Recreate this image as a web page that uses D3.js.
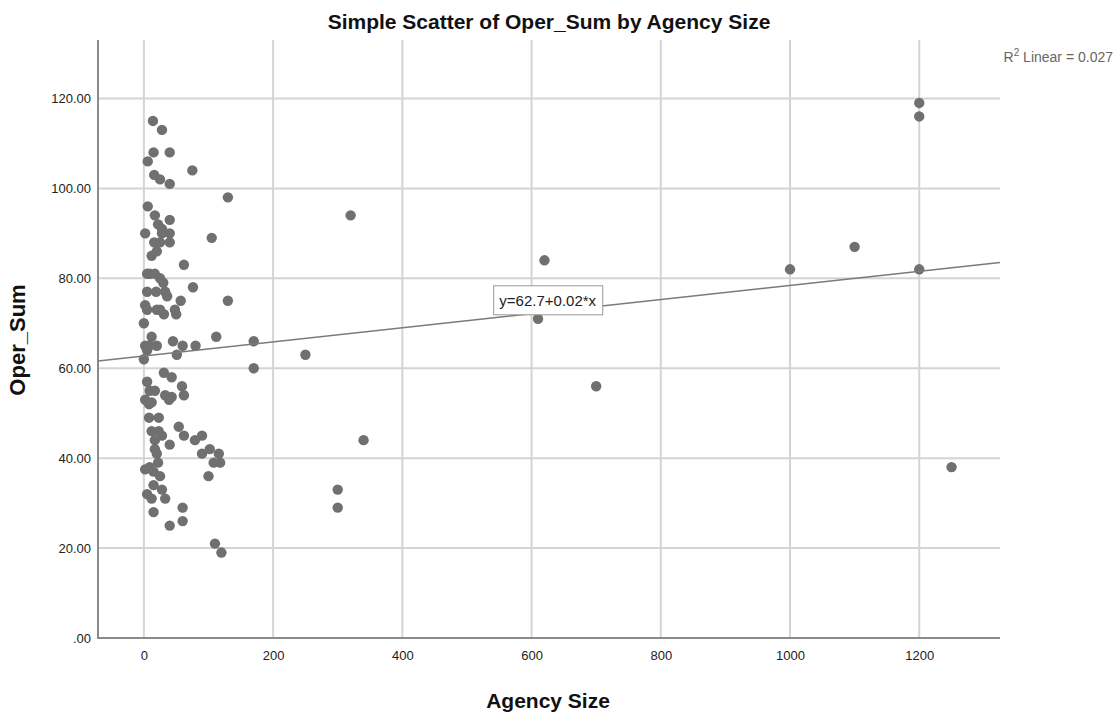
<!DOCTYPE html>
<meta charset="utf-8">
<head>
  <title>Simple Scatter of Oper_Sum by Agency Size</title>
  <script src="https://d3js.org/d3.v7.min.js"></script>
  <style>
    body { margin: 0; background: #fff; }
    text { font-family: "Liberation Sans", Arial, sans-serif; }
  </style>
</head>
<body>
<svg id="chart" width="1118" height="713"></svg>

<script>
// Agency size and Oper_Sum
var agencySize = [
  1200, 1200, 1000, 1100, 1200, 1250, 620, 610, 700, 320, 250, 300, 300, 340,
  170, 170, 130, 130, 105, 112, 75, 76, 80, 62,
  14, 28, 15, 40, 6, 16, 25, 40, 6, 17, 40, 22, 28, 2, 40, 28, 16, 25, 40, 12, 20,
  5, 9, 17, 25, 30, 5, 19, 33, 36, 57, 2, 5, 20, 25, 31, 48, 50, 0, 12,
  2, 8, 20, 45, 60, 5, 51, 0, 31, 43, 5, 59, 62, 9, 17, 33, 43, 2,
  8, 12, 39, 8, 23, 54, 62, 12, 23, 17, 28, 40, 79, 90, 90, 102, 116, 118, 108,
  17, 20, 22, 2, 9, 15, 25, 100, 15, 28, 5, 12, 33, 15, 60, 60, 40, 110, 120
]
var operSum = [
  119, 116, 82, 87, 82, 38, 84, 71, 56, 94, 63, 33, 29, 44,
  66, 60, 98, 75, 89, 67, 104, 78, 65, 83,
  115, 113, 108, 108, 106, 103, 102, 101, 96, 94, 93, 92, 91, 90, 90, 90, 88, 88, 88, 85, 86,
  81, 81, 81, 80, 79, 77, 77, 77, 76, 75, 74, 73, 73, 73, 72, 73, 72, 70, 67,
  65, 65, 65, 66, 65, 64, 63, 62, 59, 58, 57, 56, 54, 55, 55, 54, 53.6, 53,
  52, 52.4, 53, 49, 49, 47, 45, 46, 46, 44, 45, 43, 44, 45, 41, 42, 41, 39, 39,
  42, 41, 39, 37.5, 38, 37, 36, 36, 34, 33, 32, 31, 31, 28, 29, 26, 25, 21, 19
]
var xTicks = [0, 200, 400, 600, 800, 1000, 1200]
var yTicks = [0, 20, 40, 60, 80, 100, 120]
var fitIntercept = 62.7
var fitSlope = 0.0157
var fitLabel = "y=62.7+0.02*x"
var r2Label = "Linear = 0.027"

var svg = d3.select("#chart")
var plotLeft = 98, plotRight = 1000, plotTop = 40, plotBottom = 638

var x = d3.scaleLinear().domain([-71, 1325]).range([plotLeft, plotRight])
var y = d3.scaleLinear().domain([0, 133]).range([plotBottom, plotTop])

// grid
var grid = svg.append("g").attr("name", "grid")
grid.selectAll(".hgrid").data(yTicks.filter(d => d > 0)).enter().append("line")
  .attr("x1", plotLeft).attr("x2", plotRight)
  .attr("y1", d => y(d)).attr("y2", d => y(d))
  .attr("stroke", "#d4d4d4").attr("stroke-width", 2)
grid.selectAll(".vgrid").data(xTicks).enter().append("line")
  .attr("x1", d => x(d)).attr("x2", d => x(d))
  .attr("y1", plotTop).attr("y2", plotBottom)
  .attr("stroke", "#d4d4d4").attr("stroke-width", 2)

// axes
svg.append("g")
  .attr("transform", "translate(0," + plotBottom + ")")
  .call(d3.axisBottom(x).tickValues(xTicks).tickSize(0).tickPadding(13).tickFormat(d3.format("d")))
svg.append("g")
  .attr("transform", "translate(" + plotLeft + ",0)")
  .call(d3.axisLeft(y).tickValues(yTicks).tickSize(0).tickPadding(7)
    .tickFormat(d => d == 0 ? ".00" : d3.format(".2f")(d)))
svg.selectAll(".domain").remove()
svg.selectAll(".tick text").style("font-size", "13px").attr("fill", "#222")

svg.append("line").attr("x1", plotLeft).attr("x2", plotLeft).attr("y1", plotTop).attr("y2", plotBottom + 1)
  .attr("stroke", "#8a8a8a").attr("stroke-width", 2)
svg.append("line").attr("x1", plotLeft - 1).attr("x2", plotRight).attr("y1", plotBottom).attr("y2", plotBottom)
  .attr("stroke", "#8a8a8a").attr("stroke-width", 2)

// points
svg.append("g").selectAll("circle").data(agencySize).enter().append("circle")
  .attr("cx", d => x(d))
  .attr("cy", (d, i) => y(operSum[i]))
  .attr("r", 5.2)
  .attr("fill", "#707070")

// fit line
var x0 = x.domain()[0], x1 = x.domain()[1]
svg.append("line")
  .attr("x1", x(x0)).attr("y1", y(fitIntercept + fitSlope * x0))
  .attr("x2", x(x1)).attr("y2", y(fitIntercept + fitSlope * x1))
  .attr("stroke", "#7a7a7a").attr("stroke-width", 1.5)

var lab = svg.append("g")
  .attr("transform", "translate(" + x(625) + "," + y(75) + ")")
lab.append("rect").attr("x", -54).attr("y", -15).attr("width", 109).attr("height", 29)
  .attr("fill", "#fff").attr("stroke", "#999").attr("stroke-width", 1)
lab.append("text").attr("text-anchor", "middle").attr("y", 5)
  .style("font-size", "15px").attr("fill", "#222").text(fitLabel)

// texts
svg.append("text").attr("x", 549).attr("y", 29).attr("text-anchor", "middle")
  .style("font-size", "21px").style("font-weight", "bold").attr("fill", "#111")
  .text("Simple Scatter of Oper_Sum by Agency Size")

svg.append("text").attr("x", 548).attr("y", 708).attr("text-anchor", "middle")
  .style("font-size", "21px").style("font-weight", "bold").attr("fill", "#111")
  .text("Agency Size")

svg.append("text").attr("transform", "translate(25,340) rotate(-90)").attr("text-anchor", "middle")
  .style("font-size", "22px").style("font-weight", "bold").attr("fill", "#111")
  .text("Oper_Sum")

var r2 = svg.append("text").attr("x", 1113).attr("y", 62).attr("text-anchor", "end")
  .style("font-size", "14px").attr("fill", "#666")
r2.append("tspan").text("R")
r2.append("tspan").attr("dy", -6).style("font-size", "10px").text("2")
r2.append("tspan").attr("dy", 6).text(" " + r2Label)
</script>
</body>
